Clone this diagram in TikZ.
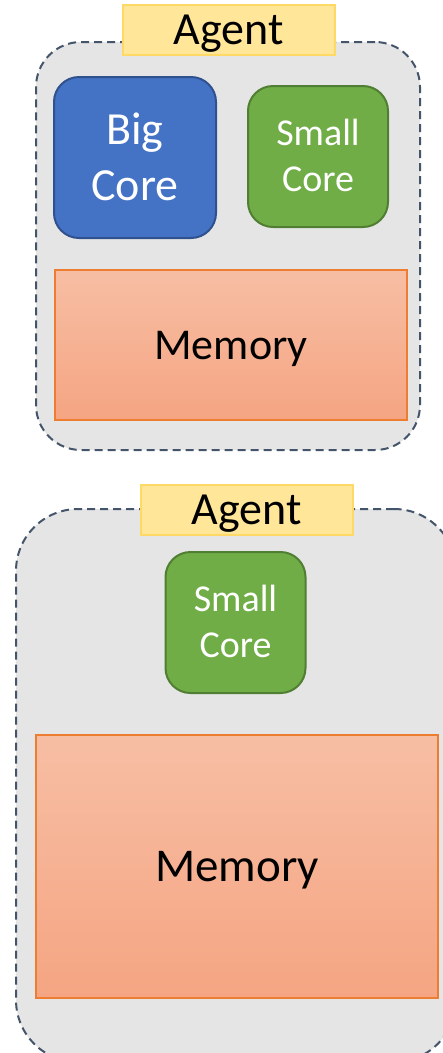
\documentclass[tikz,border=0pt]{standalone}
\usepackage{fontspec}
\setmainfont{Carlito}
\definecolor{agentfill}{HTML}{E5E5E5}
\definecolor{agentline}{HTML}{44546A}
\definecolor{tagfill}{HTML}{FFE699}
\definecolor{tagline}{HTML}{FFD966}
\definecolor{bigfill}{HTML}{4472C4}
\definecolor{bigline}{HTML}{2F528F}
\definecolor{smallfill}{HTML}{70AD47}
\definecolor{smallline}{HTML}{507E32}
\definecolor{memtop}{HTML}{F7BEA4}
\definecolor{membot}{HTML}{F5A582}
\definecolor{memline}{HTML}{ED7D31}
\tikzset{
  x=1pt, y=-1pt,
  agentbox/.style={draw=agentline, fill=agentfill, line width=2pt,
    dash pattern=on 8pt off 5pt, inner sep=0pt},
  % text boxes are sized to the capitals so the letters sit centred
  tagbox/.style={draw=tagline, fill=tagfill, line width=2pt, inner sep=0pt,
    minimum width=212pt, minimum height=50pt,
    font=\fontsize{46}{55}\selectfont, text height=29.6pt, text depth=0pt},
  bigcore/.style={draw=bigline, fill=bigfill, line width=2pt, rounded corners=25pt,
    inner sep=0pt, text=white, align=center,
    font=\fontsize{46}{56}\selectfont, text height=85.6pt, text depth=0pt},
  smallcore/.style={draw=smallline, fill=smallfill, line width=2pt, rounded corners=25pt,
    inner sep=0pt, text=white, align=center, minimum width=140pt, minimum height=141pt,
    font=\fontsize{38}{46}\selectfont, text height=70.5pt, text depth=0pt},
  membox/.style={draw=memline, top color=memtop, bottom color=membot, line width=1.5pt,
    inner sep=0pt, text depth=0pt},
}
\begin{document}
\begin{tikzpicture}
\useasboundingbox (0,0) rectangle (443,1053);

% first agent: big core, small core, memory
\node[agentbox, rounded corners=45pt, minimum width=384pt, minimum height=408pt] (agentA) at (228,246) {};
\node[tagbox] (tagA) at (228.5,30) {Agent};
\node[bigcore, minimum width=162pt, minimum height=161pt] (bigA) at (135,157.5) {Big\\Core};
\node[smallcore] (smallA) at (318,156.5) {Small\\Core};
\node[membox, minimum width=352pt, minimum height=150pt,
      font=\fontsize{44}{53}\selectfont, text height=28.3pt] (memA) at (231,345) {Memory};

% second agent: small core, larger memory
\node[agentbox, rounded corners=62pt, minimum width=440pt, minimum height=553pt] (agentB) at (236,785.5) {};
\node[tagbox] (tagB) at (246.5,510) {Agent};
\node[smallcore] (smallB) at (235.5,622.5) {Small\\Core};
\node[membox, minimum width=402pt, minimum height=263pt,
      font=\fontsize{47}{56}\selectfont, text height=30.3pt] (memB) at (237,866.5) {Memory};
\end{tikzpicture}
\end{document}
